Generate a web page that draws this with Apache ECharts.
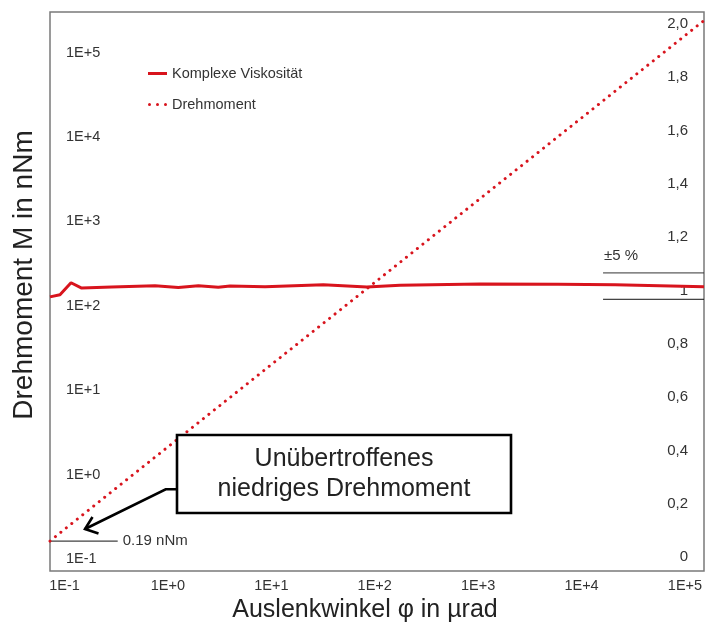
<!DOCTYPE html>
<html><head><meta charset="utf-8">
<script src="https://cdn.jsdelivr.net/npm/echarts@6/dist/echarts.min.js"></script>
<style>html,body{margin:0;padding:0;background:#fff}#c{width:706px;height:624px}</style>
</head><body><div id="c"></div>
<script>
// ---- data ----
const xTickExponents = [-1, 0, 1, 2, 3, 4, 5];          // 1E-1 ... 1E+5 µrad
const leftTickExponents = [-1, 0, 1, 2, 3, 4, 5];       // 1E-1 ... 1E+5 nNm
const rightTicks = [0, 0.2, 0.4, 0.6, 0.8, 1, 1.2, 1.4, 1.6, 1.8, 2.0];

const xRange = [0.0724, 152800];        // µrad (axis extent)
const leftRange = [0.0721, 302700];     // nNm (axis extent)
const rightRange = [-0.0525, 2.045];    // normalized viscosity

const viscAngle = [0.0724, 0.0904, 0.1156, 0.1466, 0.2858, 0.750, 1.26, 1.97, 3.07, 3.99, 8.69, 31.8, 83.8, 175.8, 1045, 5930, 21090, 152800];
const viscValue = [0.976, 0.984, 1.029, 1.009, 1.013, 1.018, 1.011, 1.018, 1.012, 1.017, 1.014, 1.022, 1.013, 1.020, 1.024, 1.023, 1.022, 1.014];

const torqueAngle = [0.0724, 0.1, 1, 10, 100, 1000, 10000, 100000, 152800];
const torqueValue = [0.163, 0.225, 2.13, 20.1, 189, 1786, 16830, 158900, 239900];

const bandAngle = [16140, 152800];
const bandUpper = [1.066, 1.066];
const bandLower = [0.967, 0.967];

const minTorqueAngle = [0.0724, 0.327];
const minTorqueValue = [0.163, 0.163];

// ---- helpers ----
const L = Math.log10;
const RED = '#d8141d';
const FONT = "'Liberation Sans', Arial, sans-serif";
const pairsLog = (xs, ys) => xs.map((x, i) => [L(x), L(ys[i])]);
const pairsLin = (xs, ys) => xs.map((x, i) => [L(x), ys[i]]);
const expLabel = v => {
  const r = Math.round(v);
  if (Math.abs(v - r) > 1e-6) return '';
  return '1E' + (r < 0 ? '-' : '+') + Math.abs(r);
};
const rightLabel = v => {
  const r = Math.round(v * 10) / 10;
  if (Math.abs(v - r) > 1e-6 || Math.round(r * 10) % 2 !== 0) return '';
  if (r === 0) return '0';
  if (r === 1) return '1';
  return r.toFixed(1).replace('.', ',');
};
const DOTS_ICON = 'path://M1.5,0A1.5,1.5,0,1,1,1.5,3A1.5,1.5,0,1,1,1.5,0Z' +
  'M9.5,0A1.5,1.5,0,1,1,9.5,3A1.5,1.5,0,1,1,9.5,0Z' +
  'M17.5,0A1.5,1.5,0,1,1,17.5,3A1.5,1.5,0,1,1,17.5,0Z';

const chart = echarts.init(document.getElementById('c'), null, {renderer: 'canvas'});
chart.setOption({
  backgroundColor: '#fff',
  animation: false,
  textStyle: {fontFamily: FONT},
  grid: {left: 50, top: 12, right: 2, bottom: 53, show: true, borderColor: '#7a7a7a', borderWidth: 1.5, containLabel: false, outerBoundsMode: 'none'},
  legend: {
    data: [{name: 'Komplexe Viskosität', icon: 'rect'}, {name: 'Drehmoment', icon: DOTS_ICON}],
    orient: 'vertical', left: 148, top: 66, padding: 0,
    itemWidth: 19, itemHeight: 3, itemGap: 16,
    textStyle: {fontSize: 14.5, color: '#333', fontFamily: FONT, lineHeight: 14}
  },
  xAxis: {
    type: 'value', min: L(xRange[0]), max: L(xRange[1]), splitNumber: 6,
    name: 'Auslenkwinkel φ in µrad', nameLocation: 'middle', nameGap: 14,
    nameTextStyle: {fontSize: 25, color: '#222', fontFamily: FONT, padding: [0, 24, 0, 0]},
    axisLine: {show: false}, axisTick: {show: false}, splitLine: {show: false},
    axisLabel: {customValues: xTickExponents, formatter: expLabel, fontSize: 14.5, color: '#333', margin: 7, lineHeight: 15, fontFamily: FONT}
  },
  yAxis: [{
    type: 'value', min: L(leftRange[0]), max: L(leftRange[1]), splitNumber: 6,
    name: 'Drehmoment M in nNm', nameLocation: 'middle', nameGap: 12, nameRotate: 90,
    nameTextStyle: {fontSize: 28, color: '#222', fontFamily: FONT, padding: [0, 0, 0, 33]},
    axisLine: {show: false}, axisTick: {show: false}, splitLine: {show: false},
    axisLabel: {customValues: leftTickExponents, formatter: expLabel, inside: true, margin: 16, fontSize: 14.5, color: '#333', fontFamily: FONT}
  }, {
    type: 'value', position: 'right', min: rightRange[0], max: rightRange[1], splitNumber: 10,
    axisLine: {show: false}, axisTick: {show: false}, splitLine: {show: false},
    axisLabel: {customValues: rightTicks, formatter: rightLabel, inside: true, margin: 16, fontSize: 15, color: '#333', fontFamily: FONT}
  }],
  series: [{
    name: '+5 %', type: 'line', yAxisIndex: 1, data: pairsLin(bandAngle, bandUpper),
    symbol: 'none', silent: true, lineStyle: {color: '#333', width: 1}, z: 2
  }, {
    name: '-5 %', type: 'line', yAxisIndex: 1, data: pairsLin(bandAngle, bandLower),
    symbol: 'none', silent: true, lineStyle: {color: '#111', width: 1}, z: 2
  }, {
    name: 'min', type: 'line', yAxisIndex: 0, data: pairsLog(minTorqueAngle, minTorqueValue),
    symbol: 'none', silent: true, lineStyle: {color: '#111', width: 1}, z: 2,
    endLabel: {show: true, formatter: '0.19 nNm', distance: 5, fontSize: 15, color: '#333', fontFamily: FONT}
  }, {
    name: 'Komplexe Viskosität', type: 'line', yAxisIndex: 1, data: pairsLin(viscAngle, viscValue),
    symbol: 'none', color: RED, itemStyle: {color: RED}, lineStyle: {color: RED, width: 3}, z: 3
  }, {
    name: 'Drehmoment', type: 'line', yAxisIndex: 0, data: pairsLog(torqueAngle, torqueValue),
    symbol: 'none', color: RED, itemStyle: {color: RED}, lineStyle: {color: RED, width: 3, type: [0.01, 7], cap: 'round'}, z: 4
  }],
  graphic: [{
    type: 'text', left: 604, top: 248, z: 10,
    style: {text: '±5 %', fontSize: 15, fill: '#333', fontFamily: FONT}
  }, {
    type: 'polyline', z: 10,
    shape: {points: [[177, 489.3], [165.7, 489.3], [85, 529]]},
    style: {stroke: '#000', lineWidth: 2.6, fill: null}
  }, {
    type: 'polyline', z: 10,
    shape: {points: [[92.5, 517], [85, 529], [98.5, 533.5]]},
    style: {stroke: '#000', lineWidth: 2.6, fill: null, lineJoin: 'miter'}
  }, {
    type: 'rect', z: 10,
    shape: {x: 177, y: 435, width: 334, height: 78},
    style: {fill: '#fff', stroke: '#000', lineWidth: 2.6}
  }, {
    type: 'text', z: 11, x: 344, y: 474.3,
    style: {text: 'Unübertroffenes\nniedriges Drehmoment', fontSize: 25, lineHeight: 30, fill: '#222', fontFamily: FONT, align: 'center', verticalAlign: 'middle'}
  }]
});
</script></body></html>
